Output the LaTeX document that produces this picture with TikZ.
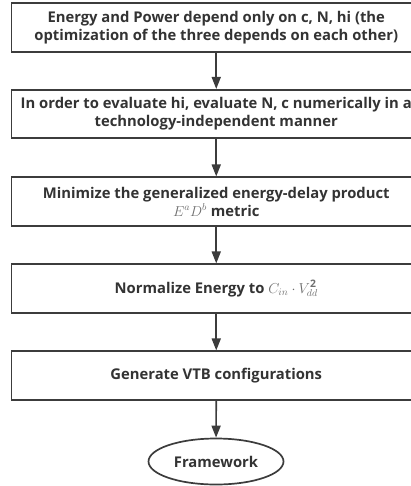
\documentclass[tikz,border=0pt]{standalone}
\usepackage{fontspec}
\setmainfont{Open Sans}
\usetikzlibrary{shapes.geometric,arrows.meta}
\definecolor{linec}{HTML}{3C3C3C}
\definecolor{txtc}{HTML}{333333}
\definecolor{mathc}{HTML}{6E6E6E}
\tikzset{
  stepbox/.style={draw=linec, line width=1.7pt, minimum width=409.5pt, minimum height=48.5pt, inner sep=0pt, align=center, text=txtc, font=\fontsize{14.8}{18}\selectfont\bfseries},
  endoval/.style={draw=linec, line width=1.7pt, ellipse, minimum width=135pt, minimum height=46pt, inner sep=0pt, text=txtc, font=\fontsize{14.8}{18}\selectfont\bfseries},
  flow/.style={draw=linec, line width=1.7pt, -{Triangle[length=12pt,width=9pt]}}
}
\begin{document}
\begin{tikzpicture}[x=1pt,y=-1pt]
\useasboundingbox (0,0) rectangle (411,486);
\begin{scope}
\clip (0,0) rectangle (411,486);
\node[stepbox] (b1) at (216.25,27.5) {Energy and Power depend only on c, N, hi (the\\optimization of the three depends on each other)};
\node[stepbox] (b2) at (216.25,114) {In order to evaluate hi, evaluate N, c numerically in a\\technology-independent manner};
\node[stepbox] (b3) at (216.25,201.5) {Minimize the generalized energy-delay product\\{\color{mathc}\mdseries$E^aD^b$} metric};
\node[stepbox] (b4) at (216.25,288.5) {Normalize Energy to {\color{mathc}\mdseries$C_{in}\cdot V_{dd}^{\mathbf{2}}$}};
\node[stepbox] (b5) at (216.25,375.5) {Generate VTB configurations};
\node[endoval] (e) at (216,461.5) {Framework};
\draw[flow] (b1) -- (b2);
\draw[flow] (b2) -- (b3);
\draw[flow] (b3) -- (b4);
\draw[flow] (b4) -- (b5);
\draw[flow] (b5) -- (e);
\end{scope}
\end{tikzpicture}
\end{document}
